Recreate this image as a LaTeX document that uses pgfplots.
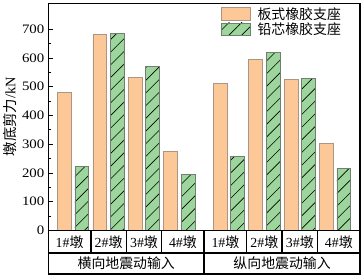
\documentclass[border=0pt]{standalone}
\usepackage{fontspec}
\setmainfont{Liberation Serif}
\newfontfamily\cjk{Noto Sans CJK SC}
\usepackage{pgfplots}
\pgfplotsset{compat=1.18}
\usetikzlibrary{patterns.meta}
\definecolor{orangefill}{RGB}{252,200,152}
\definecolor{orangeedge}{RGB}{170,150,135}
\definecolor{greenfill}{RGB}{156,214,156}
\definecolor{greenedge}{RGB}{115,125,115}
\begin{document}
\begin{tikzpicture}[font=\fontsize{14}{16}\selectfont]
\begin{axis}[
  scale only axis, width=313bp, height=228bp,
  xmin=-0.7, xmax=8.1, ymin=0, ymax=790,
  ybar, bar width=0.39,
  clip=false,
  axis line style={line width=1.5pt},
  ytick={0,100,...,700}, minor y tick num=1,
  tick align=inside, ytick pos=left,
  major tick length=5bp, minor tick length=3bp,
  tick style={line width=0.6pt, black},
  /pgf/number format/assume math mode=true,
  yticklabel style={font=\fontsize{13}{15}\selectfont, xscale=1.15},
  xtick={-0.1,1,2,3.1,4.3,5.4,6.4,7.5},
  xticklabels={1\#{\cjk 墩},2\#{\cjk 墩},3\#{\cjk 墩},4\#{\cjk 墩},1\#{\cjk 墩},2\#{\cjk 墩},3\#{\cjk 墩},4\#{\cjk 墩}},
  x tick style={draw=none},
  xticklabel style={anchor=center, yshift=-11.5bp},
  ylabel={{\cjk 墩底剪力}/kN},
  every axis y label/.style={at={(rel axis cs:0,0.5)}, xshift=-38.5bp, rotate=90, anchor=center, font=\fontsize{14.5}{16}\selectfont},
  legend style={draw=none, fill=none, at={(1,1)}, anchor=north east, xshift=-18bp, yshift=-3bp,
    inner sep=0pt, row sep=0pt, nodes={inner sep=1bp},
    /tikz/every odd column/.append style={column sep=6bp}},
  legend cell align=left,
  legend image code/.code={\draw[#1] (0bp,-6.5bp) rectangle (29bp,6.5bp);},
]
\addplot[bar shift=-0.245, fill=orangefill, draw=orangeedge, line width=0.7pt]
  coordinates {(0,480) (1,682) (2,532) (3,274) (4.4,512) (5.4,596) (6.4,524) (7.4,303)};
\addlegendentry{\cjk 板式橡胶支座}
\addplot[bar shift=0.245, fill=greenfill, draw=greenedge, line width=0.7pt,
  postaction={pattern={Lines[angle=45,distance=9bp,line width=0.6pt]}, pattern color=black}]
  coordinates {(0,223) (1,686) (2,570) (3,194) (4.4,256) (5.4,618) (6.4,528) (7.4,215)};
\addlegendentry{\cjk 铅芯橡胶支座}
% category table below the axis
\draw[line width=1.5pt] (axis cs:-0.7,0) rectangle ([yshift=-43.7bp]axis cs:8.1,0);
\draw[line width=1.5pt] ([yshift=-23bp]axis cs:-0.7,0) -- ([yshift=-23bp]axis cs:8.1,0);
\draw[line width=1.5pt] (axis cs:3.7,0) -- ([yshift=-43.7bp]axis cs:3.7,0);
\draw[line width=1.5pt] (axis cs:0.5,0) -- ([yshift=-23bp]axis cs:0.5,0);
\draw[line width=1.5pt] (axis cs:1.5,0) -- ([yshift=-23bp]axis cs:1.5,0);
\draw[line width=1.5pt] (axis cs:2.5,0) -- ([yshift=-23bp]axis cs:2.5,0);
\draw[line width=1.5pt] (axis cs:4.9,0) -- ([yshift=-23bp]axis cs:4.9,0);
\draw[line width=1.5pt] (axis cs:5.9,0) -- ([yshift=-23bp]axis cs:5.9,0);
\draw[line width=1.5pt] (axis cs:6.9,0) -- ([yshift=-23bp]axis cs:6.9,0);
\node at ([yshift=-33.4bp]axis cs:1.5,0) {\cjk 横向地震动输入};
\node at ([yshift=-33.4bp]axis cs:5.9,0) {\cjk 纵向地震动输入};
\coordinate (BL) at ([xshift=-47bp,yshift=-46.7bp]rel axis cs:0,0);
\coordinate (TR) at ([xshift=4bp,yshift=3.3bp]rel axis cs:1,1);
\end{axis}
\path (BL) rectangle (TR);
\end{tikzpicture}
\end{document}
